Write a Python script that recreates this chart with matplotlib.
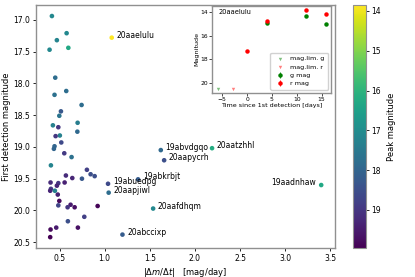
import numpy as np
import matplotlib
matplotlib.use("Agg")
import matplotlib.pyplot as plt

# --- main scatter data ---
rate = [0.415, 0.578, 0.470, 0.389, 0.597, 1.078, 0.452, 0.574, 0.444, 0.744,
        0.515, 0.497, 0.426, 0.486, 0.700, 0.697, 0.503, 0.456, 0.444, 0.437,
        0.519, 0.552, 0.633, 0.404, 0.803, 0.844, 0.889, 0.570, 0.641, 0.748,
        0.400, 0.556, 0.486, 0.470, 1.037, 1.370, 0.404, 0.396, 0.448, 1.044,
        0.480, 0.497, 0.486, 0.622, 0.589, 0.667, 0.922, 1.537, 0.774, 0.592,
        0.463, 0.400, 0.703, 0.396, 1.197, 1.622, 1.659, 2.190, 3.400]
first_mag = [16.94, 17.21, 17.32, 17.47, 17.44, 17.28, 17.91, 18.12, 18.18, 18.34,
             18.44, 18.51, 18.66, 18.69, 18.62, 18.76, 18.82, 18.83, 18.99, 19.03,
             18.93, 19.10, 19.16, 19.29, 19.36, 19.43, 19.46, 19.45, 19.49, 19.50,
             19.56, 19.56, 19.57, 19.61, 19.58, 19.51, 19.66, 19.69, 19.69, 19.72,
             19.75, 19.85, 19.92, 19.91, 19.95, 19.95, 19.93, 19.97, 20.10, 20.17,
             20.27, 20.30, 20.27, 20.42, 20.38, 19.05, 19.21, 19.02, 19.60]
peak_mag = [17.1, 17.1, 17.2, 17.1, 16.3, 13.83, 17.8, 17.8, 17.7, 17.8,
            18.3, 17.6, 17.3, 19.0, 17.4, 17.9, 17.3, 19.0, 18.0, 18.0,
            18.6, 18.9, 17.7, 17.2, 18.8, 18.5, 18.5, 19.2, 19.3, 18.3,
            19.2, 19.4, 19.0, 19.3, 18.6, 18.2, 18.9, 19.3, 17.3, 17.8,
            19.4, 19.8, 18.7, 19.5, 19.0, 19.7, 19.9, 17.1, 18.8, 18.5,
            19.5, 19.8, 19.7, 19.95, 18.2, 17.9, 18.5, 16.2, 16.3]

# labelled objects: (name, |dm/dt|, first mag)
labels = ["20aaelulu", "19abvdgqo", "20aapycrh", "19abkrbjt", "19abuedpg",
          "20aapjiwl", "20aafdhqm", "20abccixp", "20aatzhhl", "19aadnhaw"]
label_x = [1.078, 1.622, 1.659, 1.370, 1.037, 1.044, 1.537, 1.197, 2.190, 3.400]
label_y = [17.28, 19.05, 19.21, 19.51, 19.58, 19.72, 19.97, 20.38, 19.02, 19.60]

# --- inset light curve of 20aaelulu ---
lim_g_t, lim_g_m = [-5.9], [20.54]
lim_r_t, lim_r_m = [-2.8], [20.54]
g_t = [4.0, 11.9, 15.8]
g_m = [14.91, 14.29, 15.02]
g_e = [0.06, 0.05, 0.06]
r_t = [0.0, 4.0, 11.9, 15.8]
r_m = [17.27, 14.74, 13.83, 14.14]
r_e = [0.08, 0.05, 0.04, 0.05]

fig = plt.figure(figsize=(4.15, 2.77), dpi=100)
ax = fig.add_axes([0.0867, 0.104, 0.72, 0.878])
cax = fig.add_axes([0.851, 0.104, 0.031, 0.878])

sc = ax.scatter(rate, first_mag, c=peak_mag, cmap="viridis_r",
                vmin=13.85, vmax=19.96, s=11, linewidths=0)
ax.invert_yaxis()

for name, x, y in zip(labels, label_x, label_y):
    if name == "19aadnhaw":
        ax.annotate(name, (x, y), xytext=(-3.5, 1.8), textcoords="offset points",
                    ha="right", va="center", fontsize=5.5)
    else:
        ax.annotate(name, (x, y), xytext=(3.5, 1.8), textcoords="offset points",
                    ha="left", va="center", fontsize=5.5)

ax.set_xlabel(r"$|\Delta m/\Delta t|$   [mag/day]", fontsize=6, labelpad=2)
ax.set_ylabel("First detection magnitude", fontsize=6, labelpad=2)
ax.set_xticks([0.5, 1.0, 1.5, 2.0, 2.5, 3.0, 3.5])
ax.set_yticks([17.0, 17.5, 18.0, 18.5, 19.0, 19.5, 20.0, 20.5])
ax.tick_params(labelsize=5.5, length=2.5, width=0.6, pad=1.5)
for sp in ax.spines.values():
    sp.set_color("#909090")
    sp.set_linewidth(1.0)

cb = fig.colorbar(sc, cax=cax)
cb.ax.invert_yaxis()
cb.set_ticks([14, 15, 16, 17, 18, 19])
cb.ax.tick_params(labelsize=5.5, length=2.5, width=0.6, pad=1.5)
cb.set_label("Peak magnitude", fontsize=6, labelpad=4)
cb.outline.set_edgecolor("#909090")

# inset
ins = fig.add_axes([0.5116, 0.665, 0.286, 0.314])
ins.scatter(lim_g_t, lim_g_m, marker="v", color="green", alpha=0.5, s=6,
            linewidths=0, label="mag.lim. g")
ins.scatter(lim_r_t, lim_r_m, marker="v", color="red", alpha=0.5, s=6,
            linewidths=0, label="mag.lim. r")
ins.errorbar(g_t, g_m, yerr=g_e, fmt="o", color="green", ms=2.2,
             elinewidth=0.6, label="g mag")
ins.errorbar(r_t, r_m, yerr=r_e, fmt="o", color="red", ms=2.2,
             elinewidth=0.6, label="r mag")
ins.invert_yaxis()
ins.set_xticks([-5, 0, 5, 10, 15])
ins.set_yticks([14, 16, 18, 20])
ins.tick_params(labelsize=4.3, length=2, width=0.5, pad=1)
ins.set_xlabel("Time since 1st detection [days]", fontsize=4.6, labelpad=1)
ins.set_ylabel("Magnitude", fontsize=4.6, labelpad=1)
ins.text(0.05, 0.96, "20aaelulu", transform=ins.transAxes, fontsize=4.8,
         ha="left", va="top")
ins.legend(loc="lower right", fontsize=4.6, handletextpad=0.6, borderpad=0.5,
           labelspacing=0.45, framealpha=0.9)
for sp in ins.spines.values():
    sp.set_color("#909090")
    sp.set_linewidth(1.0)

fig.savefig("out.png", dpi=100)
